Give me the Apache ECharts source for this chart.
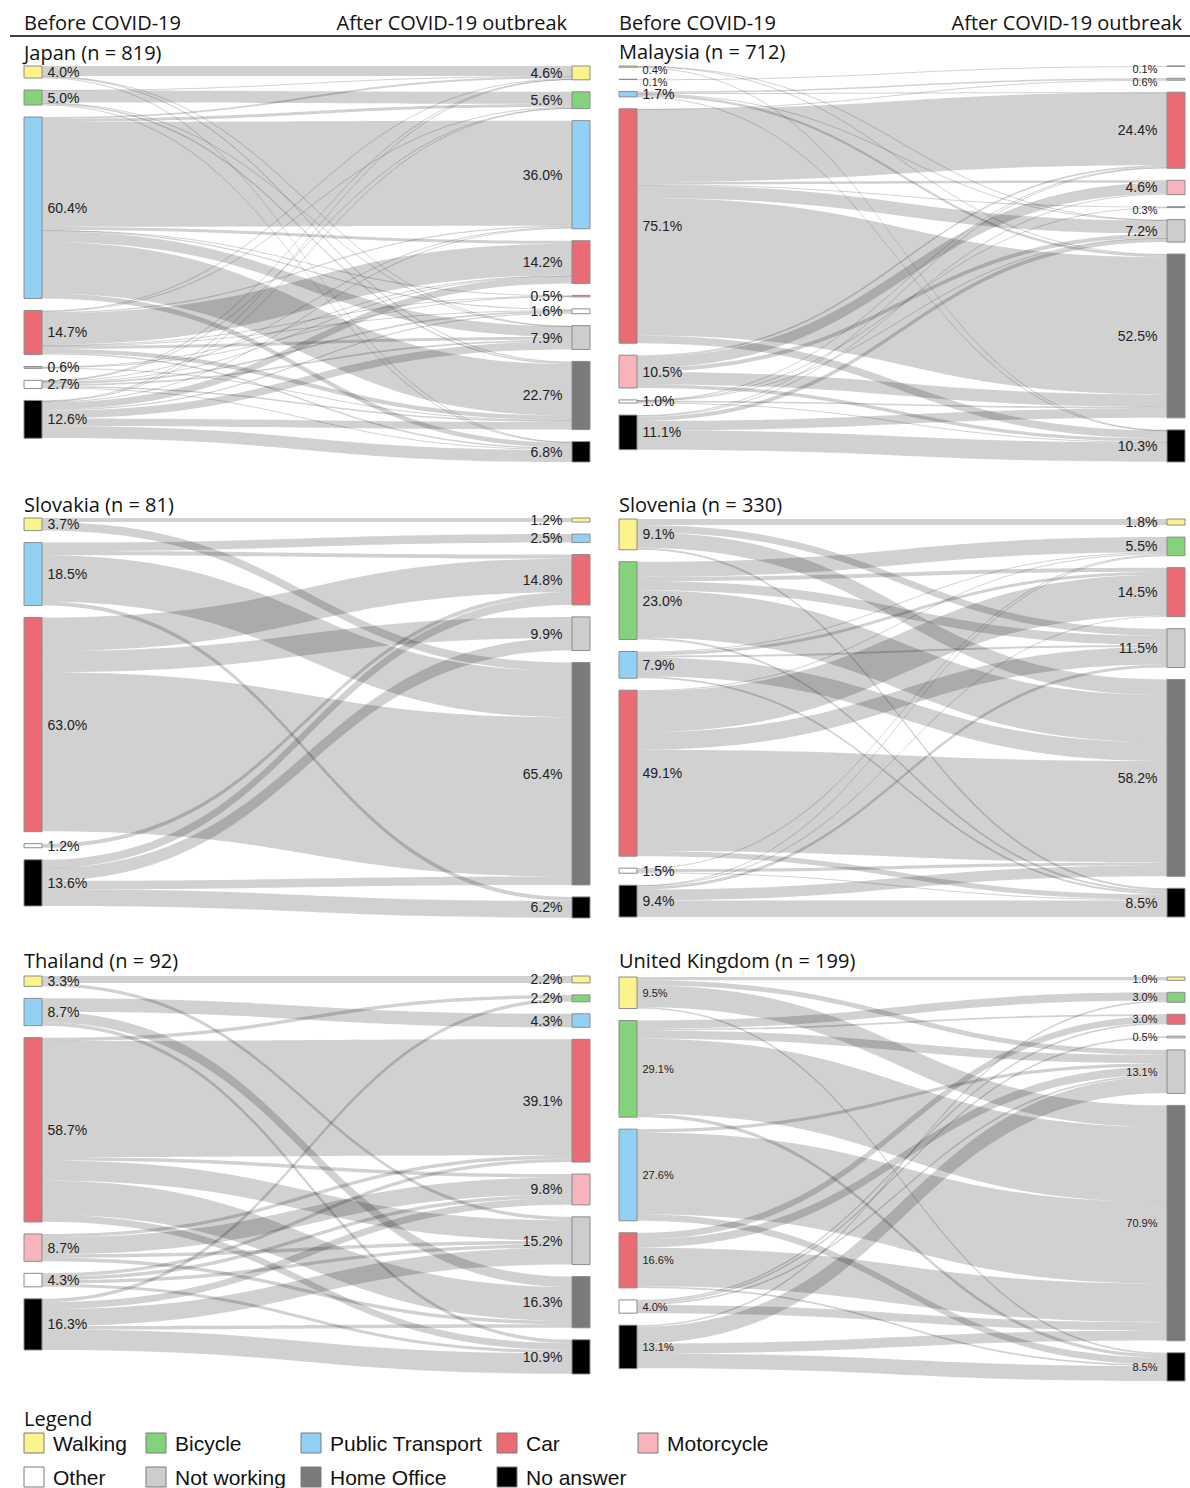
<!DOCTYPE html>
<html>
<head>
<meta charset="utf-8">
<title>Commuting mode before and after the COVID-19 outbreak</title>
<script src="https://cdn.jsdelivr.net/npm/echarts@6/dist/echarts.min.js"></script>
<style>
  html, body { margin: 0; padding: 0; background: #fff; }
  #chart { width: 1190px; height: 1488px; }
</style>
</head>
<body>
<div id="chart"></div>
<script>
// Commuting modes, in the order nodes are stacked in every panel
const modes = ['Walking', 'Bicycle', 'Public Transport', 'Car', 'Motorcycle', 'Other', 'Not working', 'Home Office', 'No answer'];
const modeColors = ['#fbf38c', '#84d37c', '#93d1f4', '#ea6b73', '#f7b4ba', '#ffffff', '#cdcdcd', '#7a7a7a', '#000000'];

// Shares (%) per mode; null = mode absent in that column.
// Flow rows = mode before, columns = mode after (share of respondents, %).

// Japan
const japanTitle = 'Japan (n = 819)';
const japanBefore = [4.0, 5.0, 60.4, 14.7, 0.6, 2.7, null, null, 12.6];
const japanAfter = [4.6, 5.6, 36.0, 14.2, 0.5, 1.6, 7.9, 22.7, 6.8];
const japanFlows = [
  [3.3, 0, 0, 0, 0, 0, 0.1, 0.4, 0.2],
  [0.2, 4.0, 0, 0, 0, 0, 0.1, 0.5, 0.2],
  [0.6, 1.0, 35.0, 1.0, 0.1, 0.4, 3.5, 17.2, 1.6],
  [0.2, 0.3, 0.4, 10.5, 0.2, 0.2, 1.0, 1.4, 0.5],
  [0, 0, 0, 0.2, 0.2, 0, 0, 0.2, 0],
  [0.1, 0.1, 0.3, 0.2, 0, 0.6, 0.6, 0.5, 0.3],
  [],
  [],
  [0.2, 0.2, 0.3, 2.3, 0, 0.4, 2.6, 2.5, 4.0]
];

// Malaysia
const malaysiaTitle = 'Malaysia (n = 712)';
const malaysiaBefore = [0.4, 0.1, 1.7, 75.1, 10.5, 1.0, null, null, 11.1];
const malaysiaAfter = [null, 0.1, 0.6, 24.4, 4.6, 0.3, 7.2, 52.5, 10.3];
const malaysiaFlows = [
  [0, 0, 0, 0, 0, 0, 0.1, 0.2, 0.1],
  [0, 0.1, 0, 0, 0, 0, 0, 0, 0],
  [0, 0, 0.5, 0.1, 0, 0, 0.2, 0.8, 0.1],
  [0, 0, 0.1, 23.3, 0.8, 0.2, 4.2, 44.0, 2.5],
  [0, 0, 0, 0.6, 3.5, 0, 1.3, 4.0, 1.1],
  [0, 0, 0, 0.1, 0, 0.1, 0.1, 0.5, 0.2],
  [],
  [],
  [0, 0, 0, 0.3, 0.3, 0, 1.3, 3.0, 6.2]
];

// Slovakia
const slovakiaTitle = 'Slovakia (n = 81)';
const slovakiaBefore = [3.7, null, 18.5, 63.0, null, 1.2, null, null, 13.6];
const slovakiaAfter = [1.2, null, 2.5, 14.8, null, null, 9.9, 65.4, 6.2];
const slovakiaFlows = [
  [1.2, 0, 0, 0, 0, 0, 0, 2.5, 0],
  [],
  [0, 0, 2.5, 1.2, 0, 0, 0, 13.6, 1.2],
  [0, 0, 0, 9.9, 0, 0, 6.2, 46.8, 0],
  [],
  [0, 0, 0, 1.2, 0, 0, 0, 0, 0],
  [],
  [],
  [0, 0, 0, 2.5, 0, 0, 3.7, 2.5, 4.9]
];

// Slovenia
const sloveniaTitle = 'Slovenia (n = 330)';
const sloveniaBefore = [9.1, 23.0, 7.9, 49.1, null, 1.5, null, null, 9.4];
const sloveniaAfter = [1.8, 5.5, null, 14.5, null, null, 11.5, 58.2, 8.5];
const sloveniaFlows = [
  [1.8, 0, 0, 0, 0, 0, 2.1, 4.6, 0.6],
  [0, 4.5, 0, 1.2, 0, 0, 2.7, 14.0, 0.6],
  [0, 0.3, 0, 0.9, 0, 0, 0.6, 5.5, 0.6],
  [0, 0.3, 0, 12.1, 0, 0, 5.2, 30.0, 1.5],
  [],
  [0, 0.3, 0, 0, 0, 0, 0, 0.9, 0.3],
  [],
  [],
  [0, 0.1, 0, 0.3, 0, 0, 0.9, 3.2, 4.9]
];

// Thailand
const thailandTitle = 'Thailand (n = 92)';
const thailandBefore = [3.3, null, 8.7, 58.7, 8.7, 4.3, null, null, 16.3];
const thailandAfter = [2.2, 2.2, 4.3, 39.1, 9.8, null, 15.2, 16.3, 10.9];
const thailandFlows = [
  [2.2, 0, 0, 0, 0, 0, 1.1, 0, 0],
  [],
  [0, 0, 4.3, 0, 0, 0, 0, 3.3, 1.1],
  [0, 1.1, 0, 36.9, 1.1, 0, 6.5, 10.8, 2.2],
  [0, 0, 0, 1.1, 5.4, 0, 1.1, 1.1, 0],
  [0, 0, 0, 1.1, 1.1, 0, 1.1, 0, 1.0],
  [],
  [],
  [0, 1.1, 0, 0, 2.2, 0, 5.4, 1.1, 6.5]
];

// United Kingdom
const ukTitle = 'United Kingdom (n = 199)';
const ukBefore = [9.5, 29.1, 27.6, 16.6, null, 4.0, null, null, 13.1];
const ukAfter = [1.0, 3.0, null, 3.0, null, 0.5, 13.1, 70.9, 8.5];
const ukFlows = [
  [1.0, 0, 0, 0, 0, 0, 1.5, 6.5, 0.5],
  [0, 2.5, 0, 0.5, 0, 0, 2.5, 22.6, 1.0],
  [0, 0, 0, 0, 0, 0, 1.0, 24.6, 2.0],
  [0, 0, 0, 2.0, 0, 0, 2.5, 11.6, 0.5],
  [],
  [0, 0, 0, 0.5, 0, 0.5, 0.5, 2.5, 0],
  [],
  [],
  [0, 0.5, 0, 0, 0, 0, 5.0, 3.0, 4.5]
];

const columnHeaders = ['Before COVID-19', 'After COVID-19 outbreak'];
const legendTitle = 'Legend';

// Panel placement on the page (titleY = vertical middle of the title text)
const panels = [
  { title: japanTitle, before: japanBefore, after: japanAfter, flows: japanFlows, x: 24, y: 66, h: 396, titleY: 52, fs: 14, tinyFs: 14, tinyDy: 0 },
  { title: malaysiaTitle, before: malaysiaBefore, after: malaysiaAfter, flows: malaysiaFlows, x: 619, y: 66, h: 396, titleY: 51, fs: 14, tinyFs: 11, tinyDy: 3 },
  { title: slovakiaTitle, before: slovakiaBefore, after: slovakiaAfter, flows: slovakiaFlows, x: 24, y: 518, h: 400, titleY: 504, fs: 14, tinyFs: 14, tinyDy: 0 },
  { title: sloveniaTitle, before: sloveniaBefore, after: sloveniaAfter, flows: sloveniaFlows, x: 619, y: 519, h: 398, titleY: 504, fs: 14, tinyFs: 14, tinyDy: 0 },
  { title: thailandTitle, before: thailandBefore, after: thailandAfter, flows: thailandFlows, x: 24, y: 976, h: 398, titleY: 960, fs: 14, tinyFs: 14, tinyDy: 0 },
  { title: ukTitle, before: ukBefore, after: ukAfter, flows: ukFlows, x: 619, y: 977, h: 404, titleY: 960, fs: 11, tinyFs: 11, tinyDy: 0 }
];
const PANEL_W = 566;

const pctFormatter = p => Number(p.value).toFixed(1) + '%';

function nodeLabel(p, v, extra) {
  const tiny = v < 1;
  return Object.assign({
    fontSize: tiny ? p.tinyFs : p.fs,
    offset: [0, tiny ? p.tinyDy : 0]
  }, extra || {});
}

function buildSankey(p) {
  const nodes = [];
  const links = [];
  const tag = (i, side) => modes[i] + ' (' + side + ')';
  p.before.forEach((v, i) => {
    if (v == null) return;
    nodes.push({
      name: tag(i, 'before'), value: v, depth: 0,
      itemStyle: { color: modeColors[i] },
      label: nodeLabel(p, v)
    });
  });
  p.after.forEach((v, i) => {
    if (v == null) return;
    nodes.push({
      name: tag(i, 'after'), value: v, depth: 1,
      itemStyle: { color: modeColors[i] },
      label: nodeLabel(p, v, { position: 'left', distance: 9 })
    });
  });
  p.flows.forEach((row, i) => {
    row.forEach((v, j) => {
      if (v > 0) links.push({ source: tag(i, 'before'), target: tag(j, 'after'), value: v });
    });
  });
  return {
    type: 'sankey',
    left: p.x, top: p.y, width: PANEL_W, height: p.h,
    nodeWidth: 18,
    nodeGap: 12,
    layoutIterations: 0,
    draggable: false,
    animation: false,
    emphasis: { disabled: true },
    itemStyle: { borderColor: '#8c8c8c', borderWidth: 1 },
    lineStyle: { color: '#000', opacity: 0.18, curveness: 0.5 },
    label: {
      show: true, position: 'right', distance: 5,
      fontFamily: 'Liberation Sans', fontSize: p.fs, color: '#222',
      formatter: pctFormatter
    },
    data: nodes,
    links: links
  };
}

const headFont = '20px "Open Sans"';
const graphics = [];
// column headers and rule
[0, 595].forEach(off => {
  graphics.push({ type: 'text', x: 24 + off, y: 22, style: { text: columnHeaders[0], font: headFont, fill: '#111', verticalAlign: 'middle' } });
  graphics.push({ type: 'text', x: 567 + off + (off ? 20 : 0), y: 22, style: { text: columnHeaders[1], font: headFont, fill: '#111', align: 'right', verticalAlign: 'middle' } });
});
graphics.push({ type: 'line', shape: { x1: 10, y1: 36, x2: 1190, y2: 36 }, style: { stroke: '#000', lineWidth: 1.5 } });
// panel titles
panels.forEach(p => {
  graphics.push({ type: 'text', x: p.x, y: p.titleY, style: { text: p.title, font: headFont, fill: '#111', verticalAlign: 'middle' } });
});
// legend
const legendCols = [24, 146, 301, 497, 638];
const legendRows = [1443, 1477];
graphics.push({ type: 'text', x: 24, y: 1418, style: { text: legendTitle, font: headFont, fill: '#111', verticalAlign: 'middle' } });
modes.forEach((m, i) => {
  const r = i < 5 ? 0 : 1;
  const c = i < 5 ? i : i - 5;
  const x = legendCols[c], y = legendRows[r];
  graphics.push({ type: 'rect', shape: { x: x, y: y - 10, width: 20, height: 20 }, style: { fill: modeColors[i], stroke: '#7a7a7a', lineWidth: 1 } });
  graphics.push({ type: 'text', x: x + 29, y: y, style: { text: m, font: '21px "Liberation Sans"', fill: '#111', verticalAlign: 'middle' } });
});

const chart = echarts.init(document.getElementById('chart'), null, { renderer: 'svg' });
chart.setOption({
  animation: false,
  backgroundColor: '#fff',
  series: panels.map(buildSankey),
  graphic: graphics
});
</script>
</body>
</html>
